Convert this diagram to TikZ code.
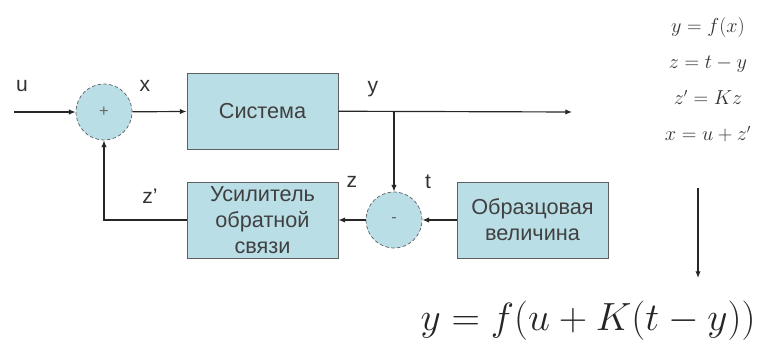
\documentclass[tikz,border=0pt]{standalone}
\usepackage[no-math]{fontspec}
\setmainfont{Liberation Sans}
\usetikzlibrary{arrows.meta,positioning}
\definecolor{blockfill}{RGB}{186,222,230}
\definecolor{blockline}{RGB}{95,95,95}

\begin{document}
\begin{tikzpicture}[
      x=0.3mm, y=-0.3mm,
      block/.style = {draw=blockline, fill=blockfill, line width=0.7pt,
                      minimum width=45.3mm, minimum height=22.8mm,
                      align=center, text=black!75,
                      font=\fontsize{18.5}{22}\selectfont},
      junct/.style = {circle, draw=blockline, densely dashed, line width=0.6pt,
                      fill=blockfill, minimum size=16.8mm, inner sep=0pt,
                      text=black!60, font=\fontsize{14}{16}\selectfont},
      lbl/.style = {text=black!80, font=\fontsize{18}{21}\selectfont},
      eqn/.style = {anchor=base, text=black!80, font=\fontsize{16}{18}\selectfont},
      arrow/.style = {-{Latex[length=2mm,width=1.6mm]}, line width=1pt, draw=black!85}
    ]
    \useasboundingbox (0,0) rectangle (759,345);

    % схема
    \node[junct] (sum)  at (104,112)   {+};
    \node[block] (sys)  at (262.5,111) {Система};
    \node[junct] (diff) at (394,220)   {-};
    \node[block] (amp)  at (262.5,220) {Усилитель\\обратной\\связи};
    \node[block] (ref)  at (532.5,220) {Образцовая\\величина};

    \coordinate (in)  at (14,112);
    \coordinate (out) at (572,112);
    \coordinate (br)  at (diff |- sum);

    \draw[arrow] (in)  -- (sum);
    \draw[arrow] (sum) -- (sys);
    \draw[arrow] (sys) -- (out);
    \draw[arrow] (br)  -- (diff);
    \draw[arrow] (ref) -- (diff);
    \draw[arrow] (diff) -- (amp);
    \draw[arrow] (amp.west) -| (sum.south);

    % подписи
    \node[lbl] (lu)  at (22,86)   {u};
    \node[lbl] (lx)  at (145,86)  {x};
    \node[lbl] (ly)  at (373,89)  {y};
    \node[lbl] (lz)  at (352,182) {z};
    \node[lbl] (lt)  at (428,182) {t};
    \node[lbl] (lzp) at (150,196) {z'};

    % уравнения
    \node[eqn] (e1) at (708,33)  {$y = f(x)$};
    \node[eqn] (e2) at (708,69)  {$z = t - y$};
    \node[eqn] (e3) at (708,105) {$z' = Kz$};
    \node[eqn] (e4) at (708,141) {$x = u + z'$};
    \node[anchor=base, text=black!85, font=\fontsize{24.88}{28}\selectfont]
         (res) at (588,330) {\scalebox{1.35}{$y = f(u + K(t - y))$}};

    \coordinate (dtop) at (698,188);
    \coordinate (dbot) at (698,278);
    \draw[arrow] (dtop) -- (dbot);
  \end{tikzpicture}
\end{document}
